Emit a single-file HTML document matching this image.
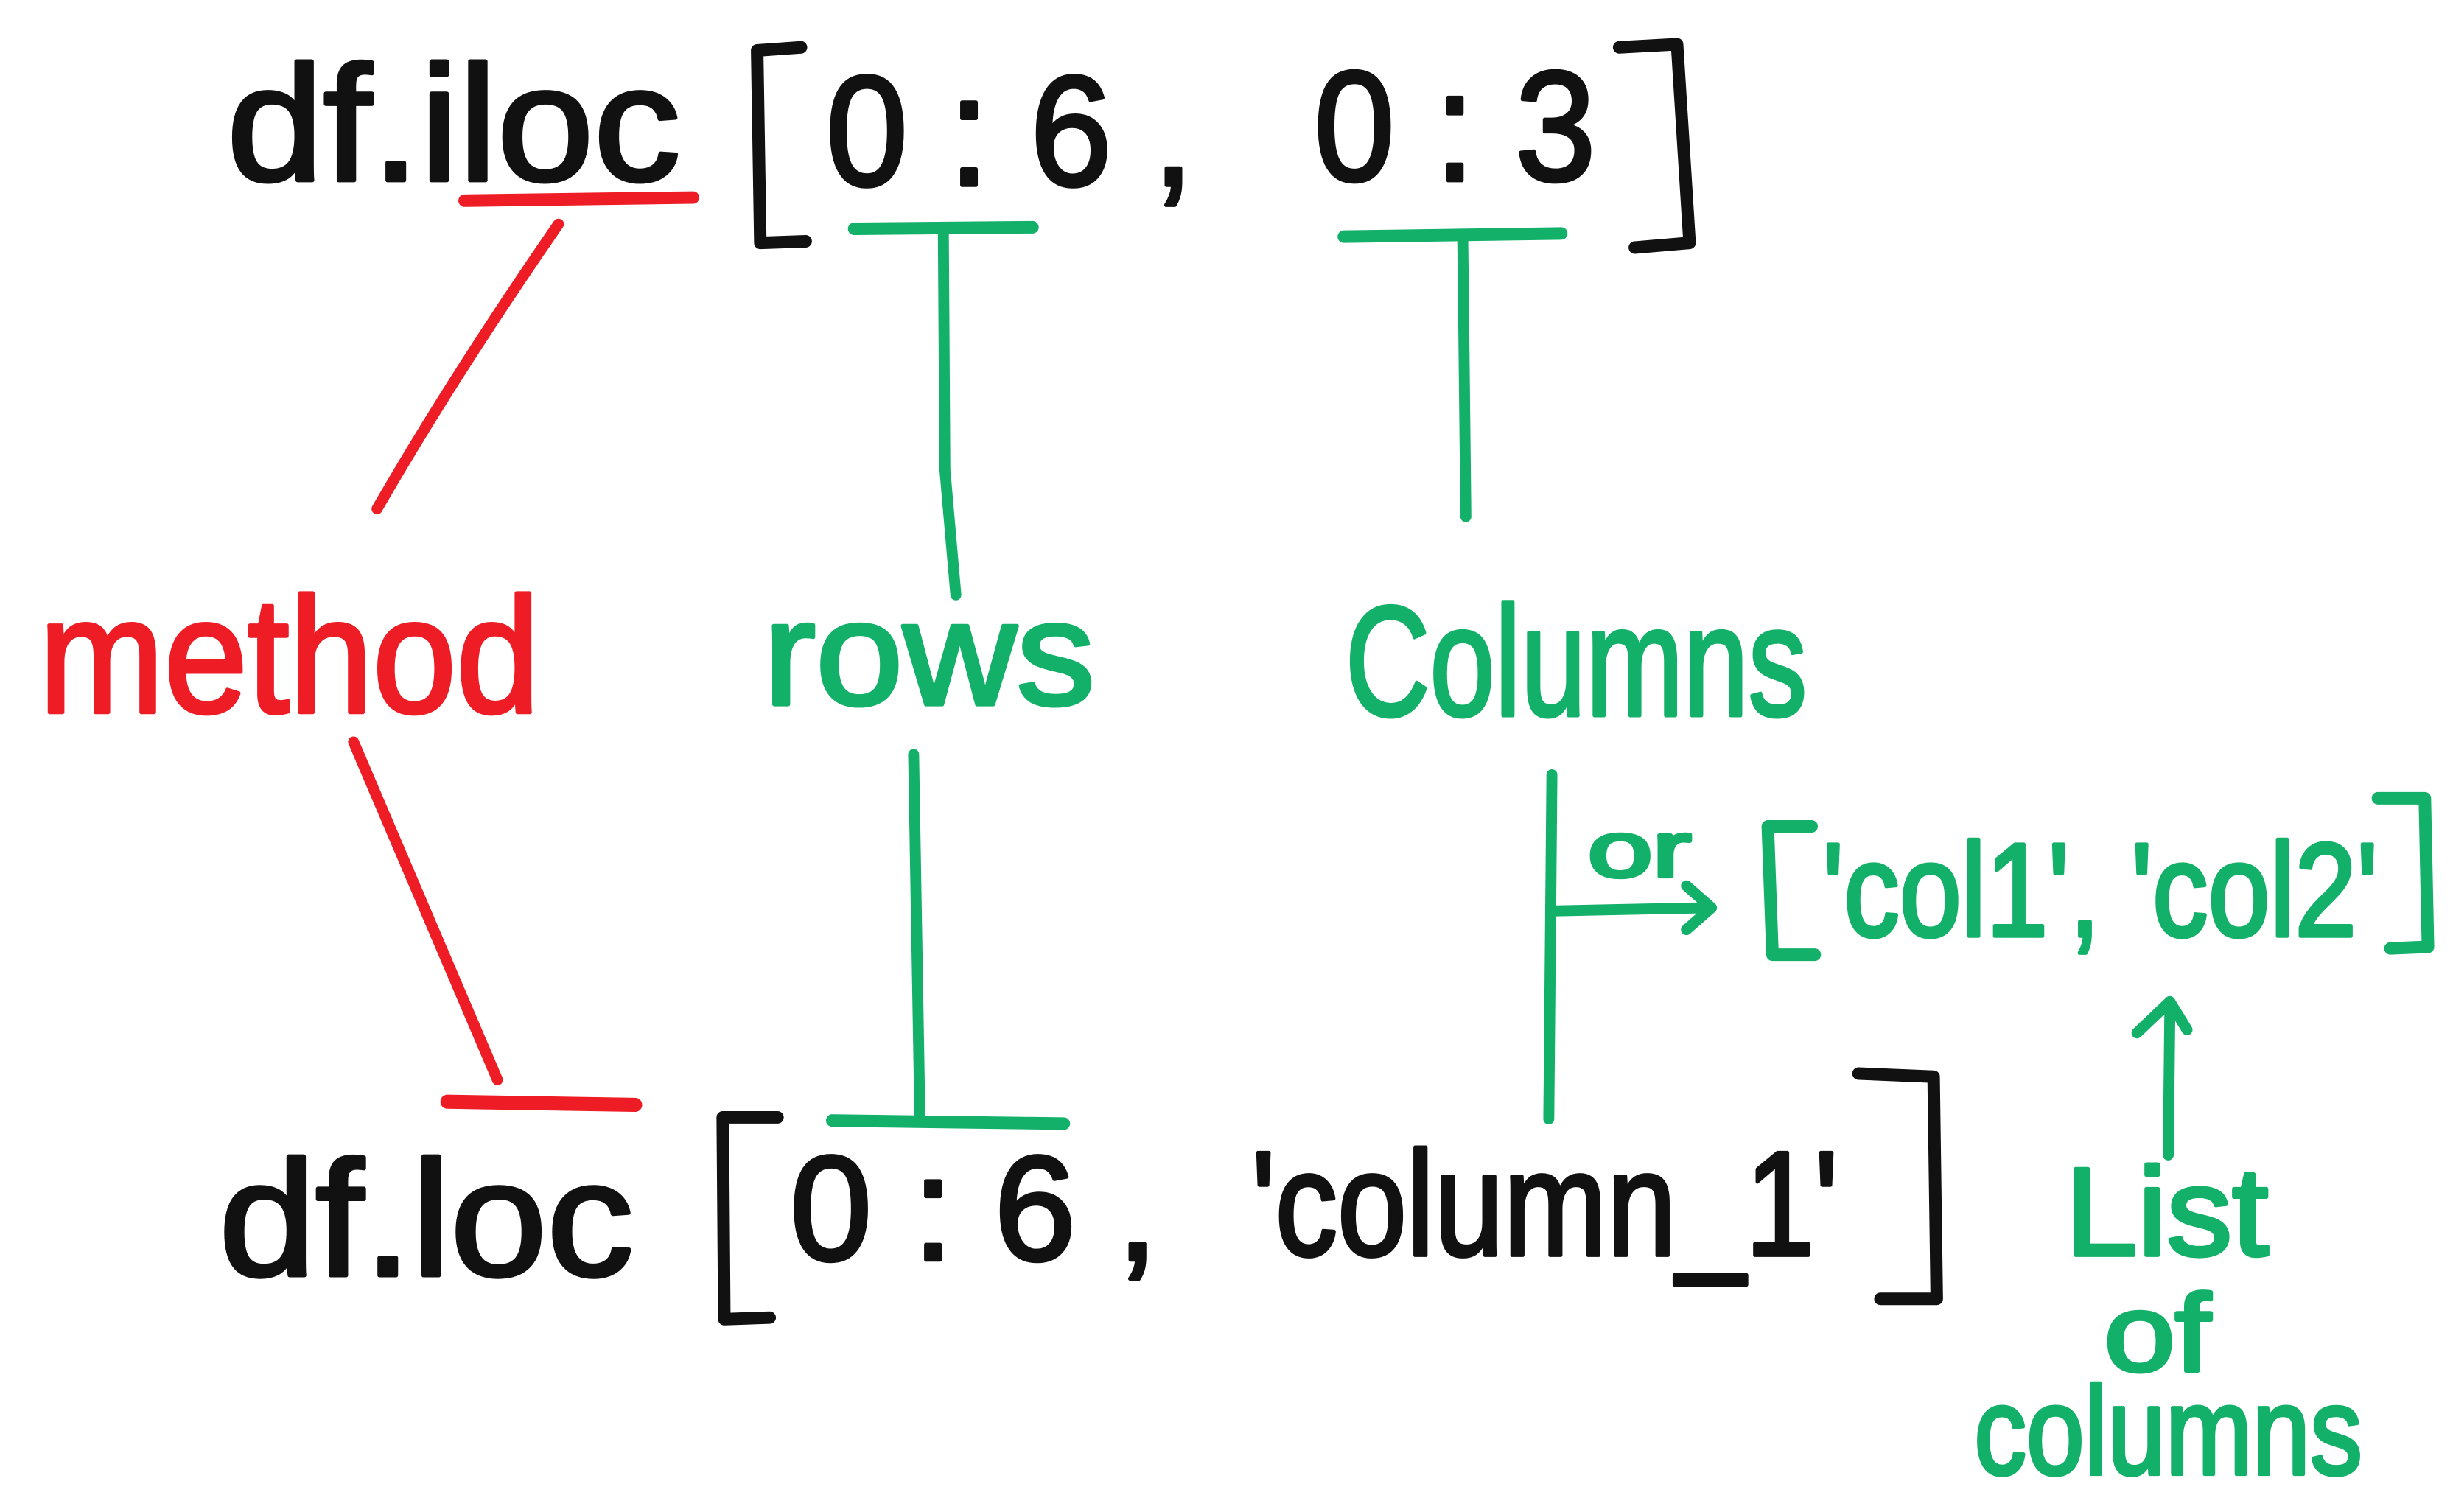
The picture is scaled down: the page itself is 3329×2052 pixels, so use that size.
<!DOCTYPE html>
<html><head><meta charset="utf-8"><style>
html,body{margin:0;padding:0;background:#fff;}
svg{display:block;}
text{font-family:"Liberation Sans",sans-serif;font-weight:normal;stroke-width:2.5;stroke-linejoin:round;}
</style></head><body>
<svg width="3329" height="2052" viewBox="0 0 1568 966" xmlns="http://www.w3.org/2000/svg">
<rect width="1568" height="966" fill="#ffffff"/>
<g fill="none" stroke-linecap="round" stroke-linejoin="round">
  <path d="M512 30 L484 32 L486 155 L515 154" stroke="#111" stroke-width="8"/>
  <path d="M1035 30 L1072 28 L1080 155 L1045 158" stroke="#111" stroke-width="8"/>
  <path d="M297 128 L443 126" stroke="#ee1c25" stroke-width="8"/>
  <path d="M357 143 Q290 240 241 325" stroke="#ee1c25" stroke-width="7"/>
  <path d="M226 474 L318 690" stroke="#ee1c25" stroke-width="7"/>
  <path d="M286 704 L406 706" stroke="#ee1c25" stroke-width="9"/>
  <path d="M546 146 L660 145" stroke="#13b06a" stroke-width="8"/>
  <path d="M603 146 L604 300 L611 380" stroke="#13b06a" stroke-width="7"/>
  <path d="M584 482 L588 714" stroke="#13b06a" stroke-width="7"/>
  <path d="M532 716 L680 718" stroke="#13b06a" stroke-width="8"/>
  <path d="M859 151 L998 149" stroke="#13b06a" stroke-width="8"/>
  <path d="M935 152 L937 330" stroke="#13b06a" stroke-width="7"/>
  <path d="M992 495 L990 715" stroke="#13b06a" stroke-width="7"/>
  <path d="M995 582 L1092 580 M1078 566 L1094 580 L1078 594" stroke="#13b06a" stroke-width="7"/>
  <path d="M1158 528 L1130 528 L1133 610 L1160 610" stroke="#13b06a" stroke-width="8"/>
  <path d="M1520 510 L1550 510 L1552 605 L1528 606" stroke="#13b06a" stroke-width="8"/>
  <path d="M1386 738 L1387 645 M1366 660 L1387 640 L1398 658" stroke="#13b06a" stroke-width="7"/>
  <path d="M497 714 L462 714 L463 843 L492 842" stroke="#111" stroke-width="8"/>
  <path d="M1188 686 L1236 688 L1238 830 L1202 830" stroke="#111" stroke-width="8"/>
</g>
<text x="145" y="115" font-size="105" fill="#111" stroke="#111" textLength="290" lengthAdjust="spacingAndGlyphs">df.iloc</text>
<text x="528" y="118" font-size="100" fill="#111" stroke="#111" textLength="235" lengthAdjust="spacingAndGlyphs">0 : 6 ,</text>
<text x="840" y="115" font-size="100" fill="#111" stroke="#111" textLength="180" lengthAdjust="spacingAndGlyphs">0 : 3</text>
<text x="25" y="455" font-size="105" fill="#ee1c25" stroke="#ee1c25" textLength="320" lengthAdjust="spacingAndGlyphs">method</text>
<text x="488" y="450" font-size="95" fill="#13b06a" stroke="#13b06a" textLength="212" lengthAdjust="spacingAndGlyphs">rows</text>
<text x="860" y="457" font-size="100" fill="#13b06a" stroke="#13b06a" textLength="295" lengthAdjust="spacingAndGlyphs">Columns</text>
<text x="1015" y="560" font-size="50" fill="#13b06a" stroke="#13b06a" textLength="66" lengthAdjust="spacingAndGlyphs">or</text>
<text x="1165" y="598" font-size="85" fill="#13b06a" stroke="#13b06a" textLength="355" lengthAdjust="spacingAndGlyphs">'col1', 'col2'</text>
<text x="1320" y="802" font-size="80" fill="#13b06a" stroke="#13b06a" textLength="130" lengthAdjust="spacingAndGlyphs">List</text>
<text x="1345" y="876" font-size="70" fill="#13b06a" stroke="#13b06a" textLength="68" lengthAdjust="spacingAndGlyphs">of</text>
<text x="1262" y="942" font-size="80" fill="#13b06a" stroke="#13b06a" textLength="248" lengthAdjust="spacingAndGlyphs">columns</text>
<text x="140" y="815" font-size="105" fill="#111" stroke="#111" textLength="265" lengthAdjust="spacingAndGlyphs">df.loc</text>
<text x="505" y="805" font-size="95" fill="#111" stroke="#111" textLength="235" lengthAdjust="spacingAndGlyphs">0 : 6 ,</text>
<text x="800" y="802" font-size="95" fill="#111" stroke="#111" textLength="375" lengthAdjust="spacingAndGlyphs">'column_1'</text>
</svg>
</body></html>
